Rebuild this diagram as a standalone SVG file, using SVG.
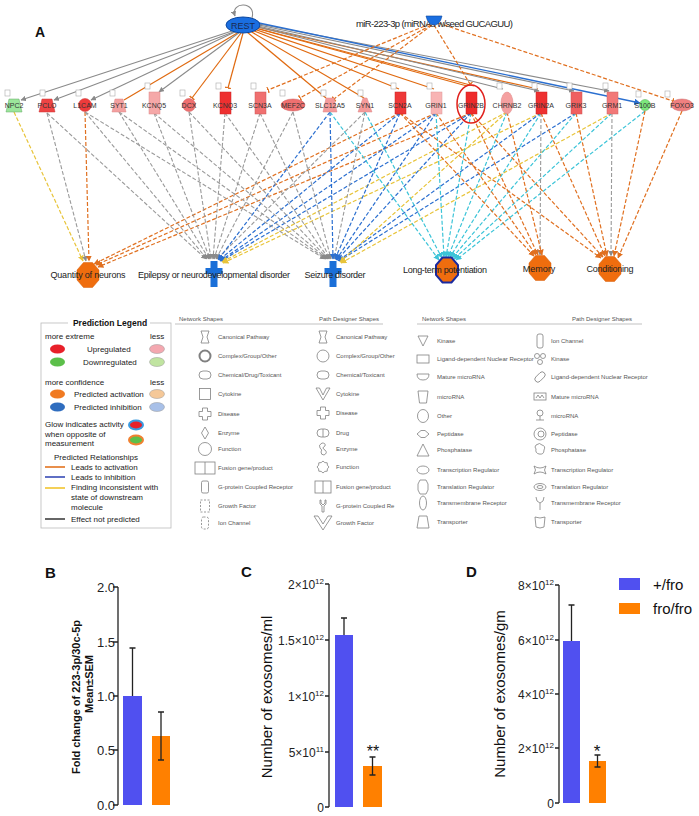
<svg xmlns="http://www.w3.org/2000/svg" width="699" height="816" viewBox="0 0 699 816">
<style>
text{font-family:"Liberation Sans",Arial,sans-serif}
.gl{font-size:7px;fill:#333;text-anchor:middle}
.ol{font-size:9px;fill:#222;text-anchor:middle}
.sg{stroke:#8a8a8a;stroke-width:1.1;fill:none}
.so{stroke:#e06a10;stroke-width:1.2;fill:none}
.sb{stroke:#2a6fd0;stroke-width:1.3;fill:none}
.dg{stroke:#9a9a9a;stroke-width:1.1;stroke-dasharray:4 2;fill:none}
.do{stroke:#e07020;stroke-width:1.2;stroke-dasharray:4 2;fill:none}
.db{stroke:#2b6fd0;stroke-width:1.2;stroke-dasharray:4 2;fill:none}
.dy{stroke:#e8c43a;stroke-width:1.2;stroke-dasharray:4 2;fill:none}
.dc{stroke:#3cc4d8;stroke-width:1.2;stroke-dasharray:4 2;fill:none}
.sbox{fill:#fff;stroke:#aaa;stroke-width:0.6}
.lt{font-size:8px;fill:#222}
.st{font-size:6px;fill:#555}
.ic{fill:none;stroke:#808080;stroke-width:0.8}
.tk{font-size:13px;fill:#222;text-anchor:end}
.tk2{font-size:12px;fill:#222;text-anchor:end}
.ax{stroke:#222;stroke-width:1.3;fill:none}
.eb{stroke:#222;stroke-width:1.3;fill:none}
</style>
<defs>
<marker id="aG" viewBox="0 0 10 10" refX="9" refY="5" markerWidth="5" markerHeight="5" orient="auto"><path d="M0,0 L10,5 L0,10 z" fill="#8a8a8a"/></marker>
<marker id="aO" viewBox="0 0 10 10" refX="9" refY="5" markerWidth="5" markerHeight="5" orient="auto"><path d="M0,0 L10,5 L0,10 z" fill="#e07020"/></marker>
<marker id="aB" viewBox="0 0 10 10" refX="9" refY="5" markerWidth="5" markerHeight="5" orient="auto"><path d="M0,0 L10,5 L0,10 z" fill="#2b6fd0"/></marker>
<marker id="aY" viewBox="0 0 10 10" refX="9" refY="5" markerWidth="5" markerHeight="5" orient="auto"><path d="M0,0 L10,5 L0,10 z" fill="#e8c43a"/></marker>
<marker id="aC" viewBox="0 0 10 10" refX="9" refY="5" markerWidth="5" markerHeight="5" orient="auto"><path d="M0,0 L10,5 L0,10 z" fill="#3cc4d8"/></marker>
<marker id="tO" viewBox="0 0 10 10" refX="9" refY="5" markerWidth="5" markerHeight="5" orient="auto"><path d="M9,0 V10" stroke="#e07020" stroke-width="2.5"/></marker>
<polygon id="oct" points="-4.5,-12.5 4.5,-12.5 11,-5 11,5 4.5,12.5 -4.5,12.5 -11,5 -11,-5"/>
<path id="crs" d="M-3.5,-12 h7 v7 h5 v6 h-5 v13 h-7 v-13 h-5 v-6 h5 z"/>
</defs>

<text x="35" y="37" font-size="14" font-weight="bold" fill="#111">A</text>

<g id="connectors">
<path d="M252,18 C257,1 230,1 235,16" class="sg" marker-end="url(#aG)"/>
<line x1="235" y1="30" x2="21" y2="100" class="sg" marker-end="url(#aG)"/>
<line x1="236" y1="31" x2="54" y2="100" class="sg" marker-end="url(#aG)"/>
<line x1="237" y1="31" x2="91" y2="100" class="sg" marker-end="url(#aG)"/>
<line x1="239" y1="32" x2="124" y2="100" class="so"/>
<line x1="240" y1="32" x2="159" y2="92" class="sg" marker-end="url(#aG)"/>
<line x1="241" y1="33" x2="192" y2="98" class="so" marker-end="url(#tO)"/>
<line x1="243" y1="33" x2="228" y2="88" class="so" marker-end="url(#tO)"/>
<line x1="247" y1="32" x2="326" y2="98" class="so"/>
<line x1="250" y1="31" x2="364" y2="98" class="so"/>
<line x1="252" y1="30" x2="399" y2="89" class="so"/>
<line x1="254" y1="29" x2="434" y2="89" class="so"/>
<line x1="255" y1="28" x2="467" y2="86" class="so"/>
<line x1="256" y1="28" x2="474" y2="86" class="so"/>
<line x1="257" y1="27" x2="538" y2="89" class="so"/>
<line x1="258" y1="27" x2="503" y2="89" class="sg"/>
<line x1="258" y1="26" x2="539" y2="91" class="sg" marker-end="url(#aG)"/>
<line x1="259" y1="25" x2="574" y2="91" class="sg" marker-end="url(#aG)"/>
<line x1="259" y1="24" x2="609" y2="91" class="sg" marker-end="url(#aG)"/>
<line x1="259" y1="23" x2="640" y2="103" class="sb" marker-end="url(#aB)"/>
<line x1="430" y1="24" x2="268" y2="90" class="do" marker-end="url(#tO)"/>
<line x1="431" y1="25" x2="300" y2="98" class="do" marker-end="url(#tO)"/>
<line x1="432" y1="25" x2="334" y2="99" class="do" marker-end="url(#tO)"/>
<line x1="434" y1="25" x2="470" y2="84" class="do" marker-end="url(#tO)"/>
<line x1="438" y1="23" x2="673" y2="101" class="do" marker-end="url(#tO)"/>
<!-- to Quantity of neurons -->
<line x1="14" y1="112" x2="83" y2="261" class="dy" marker-end="url(#aY)"/>
<line x1="47" y1="113" x2="86" y2="261" class="dg" marker-end="url(#aG)"/>
<line x1="85" y1="112" x2="89" y2="261" class="do" marker-end="url(#aO)"/>
<line x1="400" y1="113" x2="94" y2="264" class="do" marker-end="url(#aO)"/>
<line x1="436" y1="113" x2="96" y2="265" class="do" marker-end="url(#aO)"/>
<line x1="471" y1="113" x2="98" y2="267" class="do" marker-end="url(#aO)"/>
<!-- to Epilepsy -->
<line x1="47" y1="113" x2="206" y2="259" class="dg" marker-end="url(#aG)"/>
<line x1="85" y1="112" x2="207" y2="259" class="dg" marker-end="url(#aG)"/>
<line x1="119" y1="112" x2="209" y2="259" class="dg" marker-end="url(#aG)"/>
<line x1="154" y1="113" x2="210" y2="259" class="dg" marker-end="url(#aG)"/>
<line x1="189" y1="112" x2="211" y2="259" class="dg" marker-end="url(#aG)"/>
<line x1="225" y1="113" x2="213" y2="259" class="dg" marker-end="url(#aG)"/>
<line x1="260" y1="113" x2="214" y2="259" class="dg" marker-end="url(#aG)"/>
<line x1="293" y1="112" x2="216" y2="259" class="dg" marker-end="url(#aG)"/>
<line x1="365" y1="112" x2="217" y2="259" class="dg" marker-end="url(#aG)"/>
<line x1="330" y1="112" x2="218" y2="260" class="db" marker-end="url(#aB)"/>
<line x1="400" y1="113" x2="219" y2="260" class="db" marker-end="url(#aB)"/>
<line x1="436" y1="113" x2="220" y2="261" class="db" marker-end="url(#aB)"/>
<line x1="471" y1="113" x2="221" y2="261" class="db" marker-end="url(#aB)"/>
<line x1="507" y1="112" x2="222" y2="262" class="dy" marker-end="url(#aY)"/>
<line x1="541" y1="113" x2="223" y2="263" class="dy" marker-end="url(#aY)"/>
<!-- to Seizure -->
<line x1="85" y1="112" x2="325" y2="259" class="dg" marker-end="url(#aG)"/>
<line x1="119" y1="112" x2="326" y2="259" class="dg" marker-end="url(#aG)"/>
<line x1="154" y1="113" x2="327" y2="259" class="dg" marker-end="url(#aG)"/>
<line x1="189" y1="112" x2="328" y2="259" class="dg" marker-end="url(#aG)"/>
<line x1="225" y1="113" x2="329" y2="259" class="dg" marker-end="url(#aG)"/>
<line x1="260" y1="113" x2="330" y2="259" class="dg" marker-end="url(#aG)"/>
<line x1="293" y1="112" x2="331" y2="259" class="dg" marker-end="url(#aG)"/>
<line x1="365" y1="112" x2="334" y2="259" class="dg" marker-end="url(#aG)"/>
<line x1="330" y1="112" x2="333" y2="259" class="db" marker-end="url(#aB)"/>
<line x1="400" y1="113" x2="335" y2="259" class="db" marker-end="url(#aB)"/>
<line x1="436" y1="113" x2="336" y2="260" class="db" marker-end="url(#aB)"/>
<line x1="471" y1="113" x2="337" y2="260" class="db" marker-end="url(#aB)"/>
<line x1="541" y1="113" x2="338" y2="261" class="db" marker-end="url(#aB)"/>
<line x1="576" y1="113" x2="339" y2="261" class="db" marker-end="url(#aB)"/>
<line x1="507" y1="112" x2="340" y2="262" class="dy" marker-end="url(#aY)"/>
<line x1="612" y1="113" x2="341" y2="263" class="dy" marker-end="url(#aY)"/>
<!-- to LTP -->
<line x1="330" y1="112" x2="439" y2="260" class="dc" marker-end="url(#aC)"/>
<line x1="365" y1="112" x2="442" y2="258" class="dc" marker-end="url(#aC)"/>
<line x1="436" y1="113" x2="444" y2="257" class="dc" marker-end="url(#aC)"/>
<line x1="471" y1="113" x2="446" y2="257" class="dc" marker-end="url(#aC)"/>
<line x1="507" y1="112" x2="448" y2="257" class="dc" marker-end="url(#aC)"/>
<line x1="541" y1="113" x2="450" y2="257" class="dc" marker-end="url(#aC)"/>
<line x1="576" y1="113" x2="452" y2="258" class="dc" marker-end="url(#aC)"/>
<line x1="612" y1="113" x2="454" y2="259" class="dc" marker-end="url(#aC)"/>
<line x1="645" y1="111" x2="456" y2="260" class="dc" marker-end="url(#aC)"/>
<!-- to Memory -->
<line x1="400" y1="113" x2="534" y2="256" class="do" marker-end="url(#aO)"/>
<line x1="436" y1="113" x2="536" y2="255" class="do" marker-end="url(#aO)"/>
<line x1="471" y1="113" x2="538" y2="255" class="do" marker-end="url(#aO)"/>
<line x1="541" y1="113" x2="540" y2="255" class="dg" marker-end="url(#aG)"/>
<line x1="507" y1="112" x2="542" y2="255" class="do" marker-end="url(#aO)"/>
<!-- to Conditioning -->
<line x1="400" y1="113" x2="601" y2="258" class="do" marker-end="url(#aO)"/>
<line x1="471" y1="113" x2="603" y2="257" class="do" marker-end="url(#aO)"/>
<line x1="541" y1="113" x2="605" y2="256" class="do" marker-end="url(#aO)"/>
<line x1="576" y1="113" x2="607" y2="256" class="do" marker-end="url(#aO)"/>
<line x1="612" y1="113" x2="611" y2="256" class="dg" marker-end="url(#aG)"/>
<line x1="645" y1="111" x2="614" y2="256" class="do" marker-end="url(#aO)"/>
<line x1="682" y1="111" x2="618" y2="258" class="do" marker-end="url(#aO)"/>
</g>

<g id="node-REST">
<ellipse cx="243" cy="25" rx="17" ry="8" fill="#1a6ee0" stroke="#0b47a0" stroke-width="1"/>
<text x="243" y="28.5" font-size="9" fill="#1a2a50" text-anchor="middle">REST</text>
</g>
<g id="node-miR223">
<text x="356" y="27" font-size="9.5" fill="#222" textLength="157">miR-223-3p (miRNAs w/seed GUCAGUU)</text>
<path d="M426,16 h16 q-2,9 -8,9 q-6,0 -8,-9 z" fill="#1a6ee0" stroke="#0b47a0" stroke-width="0.6"/>
</g>

<g id="node-NPC2"><rect x="5" y="90" width="5" height="6" class="sbox"/><path d="M9,99 h10 l3,13 h-16 z" fill="#9be59b" stroke="#6a6" stroke-width="0.5"/><text x="14" y="108" class="gl">NPC2</text></g>
<g id="node-PCLO"><rect x="40" y="90" width="5" height="6" class="sbox"/><path d="M42,99 h10 l3,13 h-16 z" fill="#ee4444" stroke="#c33" stroke-width="0.5"/><text x="47" y="108" class="gl">PCLO</text></g>
<g id="node-L1CAM"><rect x="76" y="90" width="5" height="6" class="sbox"/><circle cx="85" cy="105" r="6.5" fill="#ee3b3b" stroke="#c33" stroke-width="0.5"/><text x="85" y="108" class="gl">L1CAM</text></g>
<g id="node-SYT1"><rect x="110" y="90" width="5" height="6" class="sbox"/><path d="M115,99 h8 l3,13 h-14 z" fill="#f3a0a0" stroke="#d88" stroke-width="0.5"/><text x="119" y="108" class="gl">SYT1</text></g>
<g id="node-KCNQ5"><rect x="145" y="83" width="5" height="6" class="sbox"/><rect x="149" y="92" width="11" height="22" fill="#f5a8a8" stroke="#d88" stroke-width="0.5"/><text x="154" y="108" class="gl">KCNQ5</text></g>
<g id="node-DCX"><rect x="180" y="90" width="5" height="6" class="sbox"/><circle cx="189" cy="105" r="6.5" fill="#f07070" stroke="#c55" stroke-width="0.5"/><text x="189" y="108" class="gl">DCX</text></g>
<g id="node-KCNQ3"><rect x="216" y="83" width="5" height="6" class="sbox"/><rect x="220" y="92" width="11" height="22" fill="#ee3030" stroke="#c22" stroke-width="0.5"/><text x="225" y="108" class="gl">KCNQ3</text></g>
<g id="node-SCN3A"><rect x="251" y="83" width="5" height="6" class="sbox"/><rect x="255" y="92" width="11" height="22" fill="#f07070" stroke="#c55" stroke-width="0.5"/><text x="260" y="108" class="gl">SCN3A</text></g>
<g id="node-MEF2C"><rect x="280" y="90" width="5" height="6" class="sbox"/><ellipse cx="293" cy="105" rx="12" ry="6" fill="#f07070" stroke="#c55" stroke-width="0.5"/><text x="293" y="108" class="gl">MEF2C</text></g>
<g id="node-SLC12A5"><rect x="321" y="90" width="5" height="6" class="sbox"/><path d="M326,98 h8 l3,14 h-14 z" fill="#f59a9a" stroke="#d88" stroke-width="0.5"/><text x="330" y="108" class="gl">SLC12A5</text></g>
<g id="node-SYN1"><rect x="358" y="90" width="5" height="6" class="sbox"/><path d="M363,98 h4 l5,14 h-14 z" fill="#f59a9a" stroke="#d88" stroke-width="0.5"/><text x="365" y="108" class="gl">SYN1</text></g>
<g id="node-SCN2A"><rect x="391" y="83" width="5" height="6" class="sbox"/><rect x="395" y="92" width="11" height="22" fill="#ee3838" stroke="#c22" stroke-width="0.5"/><text x="400" y="108" class="gl">SCN2A</text></g>
<g id="node-GRIN1"><rect x="427" y="83" width="5" height="6" class="sbox"/><rect x="431" y="92" width="11" height="22" fill="#f8b4b4" stroke="#d99" stroke-width="0.5"/><text x="436" y="108" class="gl">GRIN1</text></g>
<g id="node-GRIN2B"><rect x="466" y="92" width="11" height="22" fill="#ee2a2a" stroke="#c22" stroke-width="0.5"/><text x="471" y="108" class="gl">GRIN2B</text><ellipse cx="471" cy="104" rx="14" ry="19" fill="none" stroke="#e0201c" stroke-width="1.5"/></g>
<g id="node-CHRNB2"><rect x="497" y="83" width="5" height="6" class="sbox"/><ellipse cx="507" cy="103" rx="6" ry="11" fill="#f5a0a0" stroke="#d88" stroke-width="0.5"/><text x="507" y="108" class="gl">CHRNB2</text></g>
<g id="node-GRIN2A"><rect x="532" y="83" width="5" height="6" class="sbox"/><rect x="536" y="92" width="11" height="22" fill="#ee3030" stroke="#c22" stroke-width="0.5"/><text x="541" y="108" class="gl">GRIN2A</text></g>
<g id="node-GRIK3"><rect x="567" y="83" width="5" height="6" class="sbox"/><rect x="571" y="92" width="11" height="22" fill="#f06060" stroke="#c55" stroke-width="0.5"/><text x="576" y="108" class="gl">GRIK3</text></g>
<g id="node-GRM1"><rect x="603" y="83" width="5" height="6" class="sbox"/><rect x="607" y="92" width="11" height="22" fill="#f27878" stroke="#c66" stroke-width="0.5"/><text x="612" y="108" class="gl">GRM1</text></g>
<g id="node-S100B"><rect x="636" y="91" width="5" height="6" class="sbox"/><circle cx="645" cy="105" r="5.5" fill="#7de87d" stroke="#5a5" stroke-width="0.5"/><text x="645" y="108" class="gl">S100B</text></g>
<g id="node-FOXO3"><rect x="665" y="91" width="5" height="6" class="sbox"/><ellipse cx="682" cy="105" rx="11" ry="6" fill="#f08080" stroke="#c66" stroke-width="0.5"/><text x="682" y="108" class="gl">FOXO3</text></g>

<g id="node-quantity"><use href="#oct" x="88" y="275" fill="#ef6d0e" stroke="#d65f0a" stroke-width="0.5"/><text x="88" y="278" class="ol" textLength="75">Quantity of neurons</text></g>
<g id="node-epilepsy"><use href="#crs" x="214" y="273" fill="#1a6fd8"/><text x="214" y="278" class="ol" textLength="152">Epilepsy or neurodevelopmental disorder</text></g>
<g id="node-seizure"><use href="#crs" x="333" y="273" fill="#1a6fd8"/><text x="335" y="278" class="ol" textLength="61">Seizure disorder</text></g>
<g id="node-ltp"><use href="#oct" x="447" y="270" fill="#ef6d0e" stroke="#1a2aa0" stroke-width="2"/><text x="445" y="273" class="ol" textLength="84">Long-term potentiation</text></g>
<g id="node-memory"><use href="#oct" x="540" y="268" fill="#ef6d0e" stroke="#d65f0a" stroke-width="0.5"/><text x="539" y="272" class="ol">Memory</text></g>
<g id="node-conditioning"><use href="#oct" x="610" y="269" fill="#ef6d0e" stroke="#d65f0a" stroke-width="0.5"/><text x="610" y="272" class="ol" textLength="47">Conditioning</text></g>

<g id="prediction-legend">
<rect x="41" y="323" width="130" height="205" fill="#fff" stroke="#bbb" stroke-width="0.8"/>
<rect x="68" y="318" width="82" height="9" fill="#fff"/>
<text x="110" y="326" font-size="8.5" font-weight="bold" fill="#111" text-anchor="middle">Prediction Legend</text>
<text x="45" y="339" class="lt">more extreme</text><text x="150" y="339" class="lt">less</text>
<ellipse cx="57.5" cy="349" rx="7.5" ry="4.5" fill="#e8202a"/><text x="87" y="352" class="lt">Upregulated</text><ellipse cx="157" cy="349" rx="7.5" ry="4.5" fill="#f4a8b0" stroke="#999" stroke-width="0.5"/>
<ellipse cx="57.5" cy="362" rx="7.5" ry="4.5" fill="#5cbf4a"/><text x="83" y="365" class="lt">Downregulated</text><ellipse cx="157" cy="362" rx="7.5" ry="4.5" fill="#c0e4a0" stroke="#999" stroke-width="0.5"/>
<text x="45" y="385" class="lt">more confidence</text><text x="150" y="385" class="lt">less</text>
<ellipse cx="57.5" cy="394" rx="7.5" ry="4.5" fill="#f07a22"/><text x="74" y="397" class="lt">Predicted activation</text><ellipse cx="157" cy="394" rx="7.5" ry="4.5" fill="#f5c898" stroke="#999" stroke-width="0.5"/>
<ellipse cx="57.5" cy="407" rx="7.5" ry="4.5" fill="#2f6dbf"/><text x="74" y="410" class="lt">Predicted inhibition</text><ellipse cx="157" cy="407" rx="7.5" ry="4.5" fill="#a8c0e8" stroke="#999" stroke-width="0.5"/>
<text x="45" y="427" class="lt">Glow indicates activity</text>
<text x="45" y="437" class="lt">when opposite of</text>
<text x="45" y="446" class="lt">measurement</text>
<ellipse cx="136" cy="425" rx="7" ry="4.5" fill="#e8202a" stroke="#3a9ae0" stroke-width="2"/>
<ellipse cx="136" cy="440" rx="7" ry="4.5" fill="#5cbf4a" stroke="#f08030" stroke-width="2"/>
<text x="54" y="460" class="lt">Predicted Relationships</text>
<line x1="45" y1="467" x2="65" y2="467" stroke="#e06a10" stroke-width="1.5"/><text x="71" y="470" class="lt">Leads to activation</text>
<line x1="45" y1="477" x2="65" y2="477" stroke="#2a3fb0" stroke-width="1.5"/><text x="71" y="480" class="lt">Leads to inhibition</text>
<line x1="45" y1="488" x2="65" y2="488" stroke="#f0c020" stroke-width="1.5"/><text x="71" y="490" class="lt">Finding inconsistent with</text>
<text x="71" y="500" class="lt">state of downstream</text>
<text x="71" y="510" class="lt">molecule</text>
<line x1="45" y1="519" x2="65" y2="519" stroke="#333" stroke-width="1.5"/><text x="71" y="522" class="lt">Effect not predicted</text>
</g>

<g id="shapes-legend-1">
<text x="179" y="321" class="st">Network Shapes</text>
<text x="319" y="321" class="st">Path Designer Shapes</text>
<line x1="175" y1="324" x2="383" y2="324" stroke="#999" stroke-width="0.6"/>
<g class="ic">
<path transform="translate(205,337)" d="M-4,-6 h8 l-2,6 l2,6 h-8 l2,-6 z"/>
<circle cx="205" cy="356" r="5.5" stroke-width="2"/>
<rect x="199" y="371" width="12" height="8" rx="4"/>
<rect x="199.5" y="388.5" width="11" height="11"/>
<path transform="translate(205,414)" d="M-2.5,-6 h5 v3.5 h3.5 v5 h-3.5 v3.5 h-5 v-3.5 h-3.5 v-5 h3.5 z"/>
<path transform="translate(205,433)" d="M0,-6 L3.5,0 L0,6 L-3.5,0 Z"/>
<circle cx="205" cy="449" r="6.5"/>
<rect x="195" y="462" width="20" height="12"/><line x1="205" y1="462" x2="205" y2="474"/>
<rect x="201.5" y="481" width="7" height="12" rx="1.5"/>
<rect x="200.5" y="500" width="9" height="12" stroke-dasharray="2 1.5"/>
<rect x="201.5" y="517" width="7" height="12" rx="2" stroke-dasharray="2 1.5"/>
<path transform="translate(323,337)" d="M-4,-6 h8 l-2,6 l2,6 h-8 l2,-6 z"/>
<circle cx="323" cy="356" r="6"/>
<rect x="317" y="371" width="12" height="8" rx="4"/>
<path transform="translate(323,394)" d="M-7,-6 L0,6 L7,-6 L3.5,-6 L0,1 L-3.5,-6 Z"/>
<path transform="translate(323,413)" d="M-2.5,-6 h5 v3.5 h3.5 v5 h-3.5 v3.5 h-5 v-3.5 h-3.5 v-5 h3.5 z"/>
<rect x="317" y="429" width="12" height="8" rx="4"/><line x1="323" y1="429" x2="323" y2="437"/>
<path transform="translate(323,449)" d="M-1,-6 q4,0 3,3 q-4,2 0,4 q3,3 -1,5 q-3,0 -3,-3 q2,-2 -1,-4 q-2,-3 2,-5 z"/>
<polygon transform="translate(323,467)" points="0,-6 1.8,-4.4 4.2,-4.2 4.4,-1.8 6,0 4.4,1.8 4.2,4.2 1.8,4.4 0,6 -1.8,4.4 -4.2,4.2 -4.4,1.8 -6,0 -4.4,-1.8 -4.2,-4.2 -1.8,-4.4"/>
<rect x="315" y="481" width="16" height="12"/><line x1="323" y1="481" x2="323" y2="493"/>
<path transform="translate(323,506)" d="M-3,-6 v4 l2,2 v6 h2 v-6 l2,-2 v-4 M-3,-6 h1 v3 l2,2 l2,-2 v-3 h1"/>
<path transform="translate(323,523)" d="M-9,-7 L0,7 L9,-7 L5,-7 L0,1 L-5,-7 Z"/>
</g>
<text x="218" y="339" class="st">Canonical Pathway</text>
<text x="218" y="358" class="st">Complex/Group/Other</text>
<text x="218" y="377" class="st">Chemical/Drug/Toxicant</text>
<text x="218" y="396" class="st">Cytokine</text>
<text x="218" y="416" class="st">Disease</text>
<text x="218" y="435" class="st">Enzyme</text>
<text x="218" y="451" class="st">Function</text>
<text x="218" y="470" class="st">Fusion gene/product</text>
<text x="218" y="489" class="st">G-protein Coupled Receptor</text>
<text x="218" y="508" class="st">Growth Factor</text>
<text x="218" y="525" class="st">Ion Channel</text>
<text x="336" y="339" class="st">Canonical Pathway</text>
<text x="336" y="358" class="st">Complex/Group/Other</text>
<text x="336" y="377" class="st">Chemical/Toxicant</text>
<text x="336" y="396" class="st">Cytokine</text>
<text x="336" y="415" class="st">Disease</text>
<text x="336" y="435" class="st">Drug</text>
<text x="336" y="451" class="st">Enzyme</text>
<text x="336" y="469" class="st">Function</text>
<text x="336" y="489" class="st">Fusion gene/product</text>
<text x="336" y="508" class="st">G-protein Coupled Re</text>
<text x="336" y="525" class="st">Growth Factor</text>
</g>

<g id="shapes-legend-2">
<text x="422" y="321" class="st">Network Shapes</text>
<text x="572" y="321" class="st">Path Designer Shapes</text>
<line x1="417" y1="324" x2="642" y2="324" stroke="#999" stroke-width="0.6"/>
<g class="ic">
<path transform="translate(423,341)" d="M-5,-5 L5,-5 L0,5 Z"/>
<rect x="417" y="355" width="12" height="8"/>
<path transform="translate(423,377)" d="M-6,-3 L6,-3 Q6,3 0,3 Q-6,3 -6,-3 Z"/>
<path transform="translate(423,397)" d="M-5,-6 L5,-6 L3.5,6 L-3.5,6 Z"/>
<ellipse cx="423" cy="416" rx="5.5" ry="6.5"/>
<path transform="translate(423,434)" d="M-6,0 L-2,-3.5 L2,-3.5 L6,0 L2,3.5 L-2,3.5 Z"/>
<path transform="translate(423,450)" d="M0,-6 L6,6 L-6,6 Z"/>
<ellipse cx="423" cy="470" rx="6" ry="4"/>
<polygon transform="translate(423,487)" points="-3,-7 3,-7 5,-3 5,3 3,7 -3,7 -5,3 -5,-3"/>
<ellipse cx="423" cy="503" rx="3.5" ry="7"/>
<path transform="translate(423,522)" d="M-4,-6 L4,-6 L6,6 L-6,6 Z"/>
<rect x="537" y="334" width="6" height="14" rx="2"/>
<circle cx="537" cy="356" r="2.5"/><circle cx="543" cy="356" r="2.5"/><circle cx="540" cy="362" r="2.5"/>
<rect x="534" y="374" width="12" height="6" rx="3" transform="rotate(-45 540 377)"/>
<rect x="534" y="393" width="12" height="7"/><path d="M536,398 l2,-3 l2,3 l2,-3 l2,3"/>
<circle cx="540" cy="413" r="3"/><path d="M540,416 v4 M536,420 h8"/>
<circle cx="540" cy="434" r="6"/><circle cx="541" cy="434" r="3"/>
<path transform="translate(540,450)" d="M-4,-5 q4,-3 6,0 q4,1 2,5 q0,5 -5,4 q-4,-1 -3,-5 q-2,-2 0,-4 z"/>
<path transform="translate(540,470)" d="M-6,-4 Q0,0 6,-4 Q3,0 6,4 Q0,0 -6,4 Q-3,0 -6,-4 Z"/>
<ellipse cx="540" cy="487" rx="6" ry="3.5"/><ellipse cx="540" cy="487" rx="3" ry="1.5"/>
<path transform="translate(540,503)" d="M-4,-6 Q-4,-1 0,0 Q4,-1 4,-6 M0,0 V7"/>
<path transform="translate(540,522)" d="M-5,-5 Q0,-3 5,-5 L4,5 Q0,7 -4,5 Z"/>
</g>
<text x="437" y="343" class="st">Kinase</text>
<text x="437" y="361" class="st">Ligand-dependent Nuclear Receptor</text>
<text x="437" y="379" class="st">Mature microRNA</text>
<text x="437" y="399" class="st">microRNA</text>
<text x="437" y="418" class="st">Other</text>
<text x="437" y="436" class="st">Peptidase</text>
<text x="437" y="452" class="st">Phosphatase</text>
<text x="437" y="472" class="st">Transcription Regulator</text>
<text x="437" y="489" class="st">Translation Regulator</text>
<text x="437" y="505" class="st">Transmembrane Receptor</text>
<text x="437" y="524" class="st">Transporter</text>
<text x="551" y="343" class="st">Ion Channel</text>
<text x="551" y="361" class="st">Kinase</text>
<text x="551" y="379" class="st">Ligand-dependent Nuclear Receptor</text>
<text x="551" y="399" class="st">Mature microRNA</text>
<text x="551" y="418" class="st">microRNA</text>
<text x="551" y="436" class="st">Peptidase</text>
<text x="551" y="452" class="st">Phosphatase</text>
<text x="551" y="472" class="st">Transcription Regulator</text>
<text x="551" y="489" class="st">Translation Regulator</text>
<text x="551" y="505" class="st">Transmembrane Receptor</text>
<text x="551" y="524" class="st">Transporter</text>
</g>

<g id="chart-B">
<text x="45" y="578" font-size="15" font-weight="bold" fill="#111">B</text>
<path d="M118,587 V805 M113,587 H118 M113,642 H118 M113,696 H118 M113,750 H118 M113,805 H118" class="ax"/>
<text x="115" y="592" class="tk">2.0</text>
<text x="115" y="647" class="tk">1.5</text>
<text x="115" y="701" class="tk">1.0</text>
<text x="115" y="755" class="tk">0.5</text>
<text x="115" y="810" class="tk">0.0</text>
<text transform="translate(80,697) rotate(-90)" font-size="11" font-weight="bold" fill="#111" text-anchor="middle">Fold change of 223-3p/30c-5p</text>
<text transform="translate(93,684) rotate(-90)" font-size="11" font-weight="bold" fill="#111" text-anchor="middle">Mean±SEM</text>
<rect x="123" y="696" width="19" height="109" fill="#5050f0"/>
<rect x="152" y="736" width="18" height="69" fill="#ff8000"/>
<path d="M132.5,696 V648 M129.5,648 H135.5" class="eb"/>
<path d="M161,712 V760 M158,712 H164 M158,760 H164" class="eb"/>
</g>

<g id="chart-C">
<text x="241" y="577" font-size="15" font-weight="bold" fill="#111">C</text>
<path d="M329,584 V807 M325,584 H329 M325,640 H329 M325,696 H329 M325,752 H329 M325,807 H329" class="ax"/>
<text x="324" y="589" class="tk2">2×10<tspan dy="-5" font-size="8">12</tspan></text>
<text x="324" y="645" class="tk2">1.5×10<tspan dy="-5" font-size="8">12</tspan></text>
<text x="324" y="701" class="tk2">1×10<tspan dy="-5" font-size="8">12</tspan></text>
<text x="324" y="757" class="tk2">5×10<tspan dy="-5" font-size="8">11</tspan></text>
<text x="324" y="812" class="tk2">0</text>
<text transform="translate(272,697) rotate(-90)" font-size="15" fill="#111" text-anchor="middle">Number of exosomes/ml</text>
<rect x="335" y="635" width="18" height="172" fill="#5050f0"/>
<rect x="363" y="766" width="19" height="41" fill="#ff8000"/>
<path d="M344,635 V618 M341,618 H347" class="eb"/>
<path d="M372.5,757 V775 M369.5,757 H375.5 M369.5,775 H375.5" class="eb"/>
<text x="373" y="757" font-size="16" fill="#111" text-anchor="middle">**</text>
</g>

<g id="chart-D">
<text x="466" y="577" font-size="15" font-weight="bold" fill="#111">D</text>
<path d="M559,585 V803 M555,585 H559 M555,640 H559 M555,694 H559 M555,748 H559 M555,803 H559" class="ax"/>
<text x="554" y="590" class="tk2">8×10<tspan dy="-5" font-size="8">12</tspan></text>
<text x="554" y="645" class="tk2">6×10<tspan dy="-5" font-size="8">12</tspan></text>
<text x="554" y="699" class="tk2">4×10<tspan dy="-5" font-size="8">12</tspan></text>
<text x="554" y="753" class="tk2">2×10<tspan dy="-5" font-size="8">12</tspan></text>
<text x="554" y="808" class="tk2">0</text>
<text transform="translate(505,694) rotate(-90)" font-size="15" fill="#111" text-anchor="middle">Number of exosomes/gm</text>
<rect x="563" y="641" width="17" height="162" fill="#5050f0"/>
<rect x="589" y="761" width="17" height="42" fill="#ff8000"/>
<path d="M571.5,641 V605 M568.5,605 H574.5" class="eb"/>
<path d="M597.5,755 V767 M594.5,755 H600.5 M594.5,767 H600.5" class="eb"/>
<text x="597" y="757" font-size="17" fill="#111" text-anchor="middle">*</text>
<rect x="619" y="578" width="21" height="12" fill="#5050f0"/>
<text x="653" y="590" font-size="15" fill="#111">+/fro</text>
<rect x="619" y="603" width="21" height="11" fill="#ff8000"/>
<text x="653" y="614" font-size="15" fill="#111">fro/fro</text>
</g>
</svg>
